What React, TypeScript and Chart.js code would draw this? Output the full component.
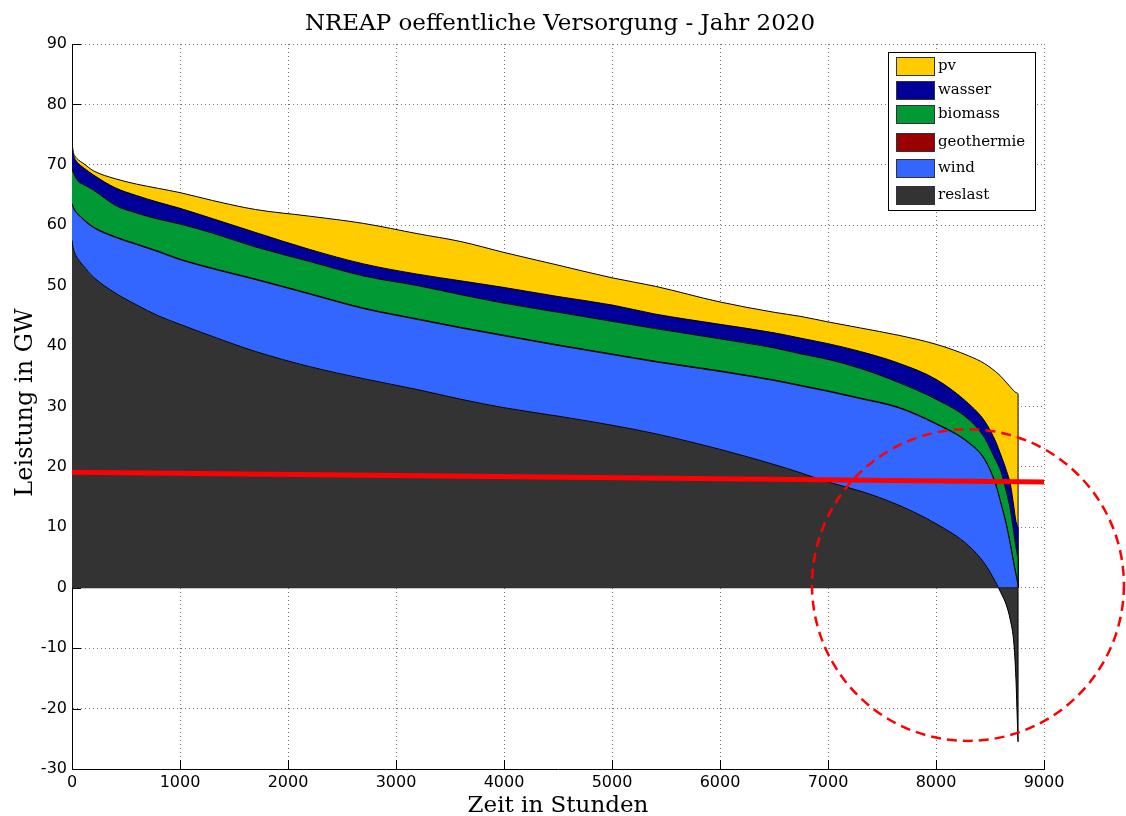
import React, { useEffect, useRef } from "react";
import { Chart, registerables } from "chart.js";

Chart.register(...registerables);

// ---- data (cumulative top edge of every stacked area, GW) ----
const hours = [0, 10, 30, 60, 100, 200, 400, 600, 800, 1000, 1300, 1700, 2200, 2700, 3200, 3600, 4000, 4500, 5000, 5400, 6000, 6500, 6750, 7000, 7300, 7650, 8000, 8300, 8450, 8550, 8600, 8650, 8690, 8720, 8740, 8755, 8760];

const reslastCurve = [57.5, 56.3, 55.2, 54.3, 53.4, 51.4, 48.8, 46.8, 45.0, 43.6, 41.6, 39.1, 36.6, 34.6, 32.8, 31.2, 29.8, 28.4, 26.9, 25.5, 22.9, 20.4, 19.0, 17.5, 16.0, 13.7, 10.6, 7.0, 4.0, 1.0, -0.8, -2.8, -5.5, -9.0, -15.0, -23.0, -25.5];
const windCurve = [63.5, 63.0, 62.3, 61.7, 61.0, 59.6, 58.0, 56.8, 55.6, 54.3, 52.8, 51.0, 48.6, 46.2, 44.4, 43.0, 41.7, 40.1, 38.6, 37.4, 35.8, 34.3, 33.4, 32.5, 31.3, 29.8, 27.1, 24.0, 21.2, 17.2, 14.0, 10.5, 7.0, 4.0, 2.2, 0.8, 0.0];
const geothermieCurve = [63.6, 63.1, 62.4, 61.8, 61.1, 59.7, 58.1, 56.9, 55.7, 54.4, 52.9, 51.1, 48.7, 46.3, 44.5, 43.1, 41.8, 40.2, 38.7, 37.5, 35.9, 34.4, 33.5, 32.6, 31.4, 29.9, 27.2, 24.1, 21.3, 17.3, 14.1, 10.6, 7.1, 4.1, 2.3, 0.9, 0.1];
const biomassCurve = [69.5, 68.8, 68.0, 67.2, 66.8, 65.8, 63.3, 62.0, 61.0, 60.2, 58.7, 56.4, 54.0, 51.6, 50.0, 48.5, 47.1, 45.6, 44.1, 42.9, 41.2, 39.7, 38.7, 37.8, 36.3, 34.0, 31.2, 27.9, 24.8, 21.2, 19.3, 16.0, 12.8, 9.2, 6.8, 5.3, 5.0];
const wasserCurve = [72.8, 71.8, 70.9, 70.2, 69.6, 68.3, 66.2, 64.9, 63.8, 62.8, 61.1, 58.8, 56.0, 53.6, 51.9, 50.8, 49.7, 48.2, 46.8, 45.3, 43.6, 42.2, 41.3, 40.4, 39.1, 37.2, 34.5, 30.5, 27.6, 24.3, 22.0, 19.5, 17.0, 13.5, 11.0, 10.2, 10.0];
const pvCurve = [74.0, 72.3, 71.4, 70.8, 70.3, 69.0, 67.7, 66.8, 66.1, 65.4, 64.1, 62.6, 61.5, 60.3, 58.6, 57.3, 55.5, 53.4, 51.3, 49.9, 47.3, 45.6, 44.9, 44.0, 43.0, 41.8, 40.3, 38.4, 37.1, 35.8, 35.0, 34.0, 33.2, 32.6, 32.3, 32.2, 32.1];

const seriesLabels = ["reslast", "wind", "geothermie", "biomass", "wasser", "pv"];
const seriesColors = ["#333333", "#3366FF", "#990000", "#009933", "#000099", "#FFCC00"];

// red reference line (GW at x start / end)
const refLineX = [0, 9000];
const refLineY = [19.1, 17.5];

// dashed circle annotation in data units
const circleCenter = { x: 8296, y: 0.45 };
const circleRadius = { x: 1444, y: 25.8 };

const xTicks = [0, 1000, 2000, 3000, 4000, 5000, 6000, 7000, 8000, 9000];
const yTicks = [-30, -20, -10, 0, 10, 20, 30, 40, 50, 60, 70, 80, 90];

const titleText = "NREAP oeffentliche Versorgung - Jahr 2020";
const xTitle = "Zeit in Stunden";
const yTitle = "Leistung in GW";

const SERIF = "'DejaVu Serif', serif";
const SANS = "'DejaVu Sans', sans-serif";

function toPoints(curve: number[]) {
  const pts = hours.map((h, i) => ({ x: h, y: curve[i] }));
  pts.push({ x: hours[hours.length - 1], y: 0 });
  return pts;
}

const overlayPlugin = {
  id: "overlay",
  beforeDatasetsDraw(chart: any) {
    const { ctx, chartArea, scales } = chart;
    ctx.save();
    ctx.strokeStyle = "#000";
    ctx.lineWidth = 1;
    ctx.beginPath();
    for (const v of yTicks) {
      const y = Math.round(scales.y.getPixelForValue(v)) + 0.5;
      ctx.moveTo(chartArea.left, y);
      ctx.lineTo(chartArea.left + 9, y);
    }
    for (const v of xTicks) {
      const x = Math.round(scales.x.getPixelForValue(v)) + 0.5;
      ctx.moveTo(x, chartArea.bottom);
      ctx.lineTo(x, chartArea.bottom - 9);
    }
    ctx.stroke();
    ctx.restore();
  },
  afterDatasetsDraw(chart: any) {
    const { ctx, scales } = chart;
    const cx = scales.x.getPixelForValue(circleCenter.x);
    const cy = scales.y.getPixelForValue(circleCenter.y);
    const rx = Math.abs(scales.x.getPixelForValue(circleCenter.x + circleRadius.x) - cx);
    const ry = Math.abs(scales.y.getPixelForValue(circleCenter.y + circleRadius.y) - cy);
    ctx.save();
    ctx.strokeStyle = "#FF0000";
    ctx.lineWidth = 2.5;
    ctx.setLineDash([10, 6]);
    ctx.beginPath();
    ctx.ellipse(cx, cy, rx, ry, 0, 0, Math.PI * 2);
    ctx.stroke();
    ctx.restore();
  },
  afterDraw(chart: any) {
    const { ctx, chartArea } = chart;
    ctx.save();
    ctx.fillStyle = "#000";
    ctx.font = `23px ${SERIF}`;
    ctx.textAlign = "center";
    ctx.textBaseline = "alphabetic";
    ctx.fillText(titleText, (chartArea.left + chartArea.right) / 2 + 2, 30);
    ctx.fillText(xTitle, (chartArea.left + chartArea.right) / 2, 812);
    ctx.save();
    ctx.translate(32, (chartArea.top + chartArea.bottom) / 2 - 4);
    ctx.rotate(-Math.PI / 2);
    ctx.font = `24px ${SERIF}`;
    ctx.fillText(yTitle, 0, 0);
    ctx.restore();

    // legend
    const bx = 888.5, by = 52.5, bw = 147, bh = 158;
    ctx.fillStyle = "#fff";
    ctx.fillRect(bx, by, bw, bh);
    ctx.strokeStyle = "#000";
    ctx.lineWidth = 1;
    ctx.strokeRect(bx, by, bw, bh);
    const rowTops = [57, 81, 105, 133, 159, 186];
    const items = chart.data.datasets.filter((d: any) => d.inLegend).slice().reverse();
    ctx.font = `15px ${SERIF}`;
    ctx.textAlign = "left";
    ctx.textBaseline = "middle";
    items.forEach((d: any, i: number) => {
      const top = rowTops[i];
      ctx.fillStyle = d.backgroundColor;
      ctx.fillRect(896.5, top + 0.5, 38, 18);
      ctx.strokeStyle = "#333";
      ctx.strokeRect(896.5, top + 0.5, 38, 18);
      ctx.fillStyle = "#000";
      ctx.fillText(d.label, 938, top + 9);
    });
    ctx.restore();
  },
};

export default function App() {
  const canvasRef = useRef<HTMLCanvasElement | null>(null);

  useEffect(() => {
    const canvas = canvasRef.current;
    if (!canvas) return;
    const curves = [reslastCurve, windCurve, geothermieCurve, biomassCurve, wasserCurve, pvCurve];
    const areaSets = curves.map((c, i) => ({
      label: seriesLabels[i],
      data: toPoints(c),
      backgroundColor: seriesColors[i],
      borderColor: "#000",
      borderWidth: 1,
      pointRadius: 0,
      cubicInterpolationMode: "monotone",
      fill: i === 0 ? "origin" : "-1",
      order: i,
      inLegend: true,
    }));
    const chart = new Chart(canvas, {
      type: "line",
      data: {
        datasets: [
          ...areaSets,
          {
            label: "baseline",
            data: [
              { x: 0, y: 0 },
              { x: hours[hours.length - 1], y: 0 },
            ],
            borderColor: "#222",
            borderWidth: 1,
            pointRadius: 0,
            fill: false,
            order: -1,
          },
          {
            label: "referenz",
            data: refLineX.map((x, i) => ({ x, y: refLineY[i] })),
            borderColor: "#FF0000",
            borderWidth: 5,
            pointRadius: 0,
            fill: false,
            order: -2,
          },
        ] as any,
      },
      options: {
        responsive: false,
        animation: false,
        layout: { padding: { left: 0, top: 44, right: 82, bottom: 0 } },
        plugins: {
          legend: { display: false },
          title: { display: false },
          tooltip: { enabled: false },
        },
        elements: { line: { borderJoinStyle: "round" } },
        scales: {
          x: {
            type: "linear",
            min: 0,
            max: 9000,
            afterBuildTicks: (s: any) => {
              s.ticks = xTicks.map((v) => ({ value: v }));
            },
            afterFit: (s: any) => {
              s.height = 47;
            },
            ticks: {
              color: "#000",
              font: { family: SANS, size: 16 },
              padding: 4,
              maxRotation: 0,
              callback: (v: any) => String(v),
            },
            grid: {
              color: "rgba(0,0,0,0.55)",
              drawTicks: false,
              lineWidth: 1,
            },
            border: { display: true, color: "#000", width: 1, dash: [1, 3] },
          },
          y: {
            type: "linear",
            min: -30,
            max: 90,
            afterBuildTicks: (s: any) => {
              s.ticks = yTicks.map((v) => ({ value: v }));
            },
            afterFit: (s: any) => {
              s.width = 72;
            },
            ticks: {
              color: "#000",
              font: { family: SANS, size: 16 },
              padding: 5,
              callback: (v: any) => String(v),
            },
            grid: {
              color: "rgba(0,0,0,0.55)",
              drawTicks: false,
              lineWidth: 1,
            },
            border: { display: true, color: "#000", width: 1, dash: [1, 3] },
          },
        },
      },
      plugins: [overlayPlugin],
    });
    return () => chart.destroy();
  }, []);

  return (
    <div style={{ position: "absolute", left: 0, top: 0, width: 1126, height: 816, background: "#fff" }}>
      <canvas ref={canvasRef} width={1126} height={816} style={{ display: "block" }} />
    </div>
  );
}
